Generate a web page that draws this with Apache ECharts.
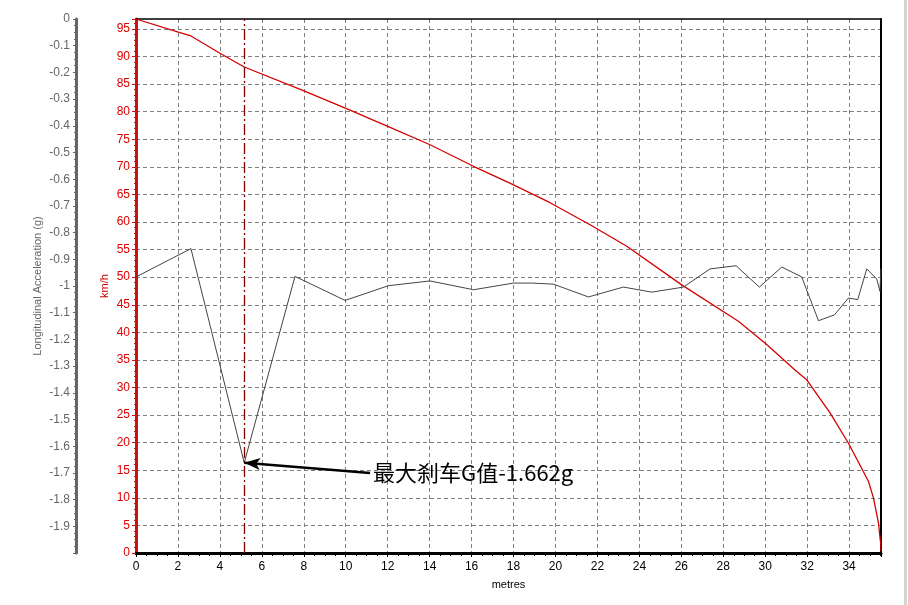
<!DOCTYPE html>
<html>
<head>
<meta charset="utf-8">
<script src="https://cdn.jsdelivr.net/npm/echarts@6/dist/echarts.min.js"></script>
<style>
html,body{margin:0;padding:0;background:#fff;}
#chart{width:908px;height:605px;}
</style>
</head>
<body>
<div id="chart"></div>
<script>
// Speed trace (km/h vs metres)
const speedDist = [0, 2.02, 2.58, 4.0, 5.16, 7.98, 10.12, 12.03, 14.02, 16.09, 17.8, 19.74, 21.65, 23.4, 26.02, 28.72, 30.07, 31.5, 31.98, 33.09, 33.97, 34.92, 35.16, 35.4, 35.51, 35.52];
const speedKmh  = [96.8, 94.4, 93.8, 90.6, 88.1, 83.8, 80.4, 77.3, 74.0, 70.1, 67.1, 63.5, 59.5, 55.6, 48.6, 42.0, 37.8, 32.9, 31.4, 25.4, 19.9, 13.0, 10.0, 5.4, 1.5, 0.3];

// Longitudinal acceleration trace (g vs metres)
const accDist = [0, 2.62, 5.16, 7.58, 9.97, 12.03, 14.02, 16.09, 18.0, 18.87, 19.9, 21.57, 23.24, 24.59, 26.1, 27.37, 28.61, 29.72, 30.79, 31.74, 32.54, 33.3, 33.97, 34.41, 34.84, 35.32, 35.47, 35.52];
const accG    = [-0.966, -0.86, -1.662, -0.964, -1.054, -0.999, -0.981, -1.014, -0.989, -0.989, -0.993, -1.041, -1.004, -1.023, -1.004, -0.936, -0.924, -1.004, -0.929, -0.966, -1.130, -1.108, -1.045, -1.051, -0.936, -0.974, -1.02, -0.935];

// Annotation
const peakDist = 5.16;
const peakG = -1.662;
const noteText = '最大刹车G值-1.662g';
const noteAnchor = [11.16, -1.70];

const xMax = 35.52;
const speedMax = 96.8;

const speedData = speedDist.map((d, i) => [d, speedKmh[i]]);
const accData = accDist.map((d, i) => [d, accG[i]]);

const chart = echarts.init(document.getElementById('chart'));
const baseFont = 'Tahoma, "Liberation Sans", Arial, sans-serif';
chart.setOption({
  animation: false,
  backgroundColor: '#ffffff',
  grid: {left: 136, right: 27, top: 19, bottom: 52, show: false},
  graphic: [{type: 'rect', left: 904, top: 0, shape: {width: 3, height: 605}, style: {fill: '#d4d4d4'}}],
  xAxis: [{
    type: 'value', min: 0, max: xMax, interval: 2, position: 'bottom',
    name: 'metres', nameLocation: 'middle', nameGap: 26,
    nameTextStyle: {color: '#000', fontSize: 11, fontFamily: baseFont},
    axisLine: {onZero: false, lineStyle: {color: '#000', width: 3}},
    axisTick: {show: true, length: 4, lineStyle: {color: '#000'}},
    minorTick: {show: true, splitNumber: 4, length: 3, lineStyle: {color: '#000'}},
    axisLabel: {color: '#000', fontSize: 12, fontFamily: baseFont, margin: 8, showMaxLabel: false},
    splitLine: {show: true, showMaxLine: false, lineStyle: {color: '#808080', type: [4, 3], width: 1}}
  }, {
    type: 'value', min: 0, max: xMax, position: 'top',
    axisLine: {show: true, onZero: false, lineStyle: {color: '#000', width: 1.5}},
    axisTick: {show: false}, axisLabel: {show: false}, splitLine: {show: false}
  }],
  yAxis: [{
    type: 'value', min: 0, max: speedMax, interval: 5, position: 'left',
    name: 'km/h', nameLocation: 'middle', nameGap: 26, nameRotate: 90, nameMoveOverlap: false,
    nameTextStyle: {color: '#cc0000', fontSize: 11, fontFamily: baseFont},
    axisLine: {show: true, onZero: false, lineStyle: {color: '#cc1111', width: 3}},
    axisTick: {show: true, length: 4, lineStyle: {color: '#cc1111'}},
    minorTick: {show: true, splitNumber: 5, length: 2, lineStyle: {color: '#cc1111'}},
    axisLabel: {color: '#dd0000', fontSize: 12, fontFamily: baseFont, margin: 6, showMaxLabel: false},
    splitLine: {show: true, showMaxLine: false, lineStyle: {color: '#808080', type: [4, 3], width: 1}}
  }, {
    type: 'value', min: -2, max: 0, interval: 0.1, position: 'left', offset: 60,
    name: 'Longitudinal Acceleration (g)', nameLocation: 'middle', nameGap: 33, nameRotate: 90, nameMoveOverlap: false,
    nameTextStyle: {color: '#666', fontSize: 11, fontFamily: baseFont},
    axisLine: {show: true, onZero: false, lineStyle: {color: '#666', width: 3}},
    axisTick: {show: true, length: 3, lineStyle: {color: '#666'}},
    minorTick: {show: true, splitNumber: 4, length: 2, lineStyle: {color: '#666'}},
    axisLabel: {color: '#666', fontSize: 12, fontFamily: baseFont, margin: 6, showMinLabel: false},
    splitLine: {show: false}
  }, {
    type: 'value', min: 0, max: speedMax, position: 'right',
    axisLine: {show: true, onZero: false, lineStyle: {color: '#000', width: 2}},
    axisTick: {show: false}, axisLabel: {show: false}, splitLine: {show: false}
  }],
  series: [{
    name: 'speed', type: 'line', xAxisIndex: 0, yAxisIndex: 0, data: speedData,
    showSymbol: false, symbol: 'none',
    lineStyle: {color: '#d40000', width: 1.3},
    markLine: {
      silent: true, symbol: 'none', label: {show: false},
      lineStyle: {color: '#800000', type: [11, 3, 2, 3], width: 1.3},
      data: [{xAxis: peakDist}]
    },
    z: 3
  }, {
    name: 'accel', type: 'line', xAxisIndex: 0, yAxisIndex: 1, data: accData,
    showSymbol: false, symbol: 'none',
    lineStyle: {color: '#444', width: 1},
    markLine: {
      silent: true, label: {show: false},
      symbol: ['none', 'arrow'], symbolSize: [9, 16],
      lineStyle: {color: '#000', type: 'solid', width: 2.5},
      data: [[{coord: noteAnchor}, {coord: [peakDist, peakG]}]]
    },
    markPoint: {
      silent: true,
      data: [{coord: noteAnchor, symbol: 'circle', symbolSize: 0,
        label: {show: true, position: 'right', distance: 3, formatter: noteText,
          color: '#000', fontSize: 22, fontFamily: '"Noto Sans CJK SC", sans-serif'}}]
    },
    z: 4
  }]
});
</script>
</body>
</html>
